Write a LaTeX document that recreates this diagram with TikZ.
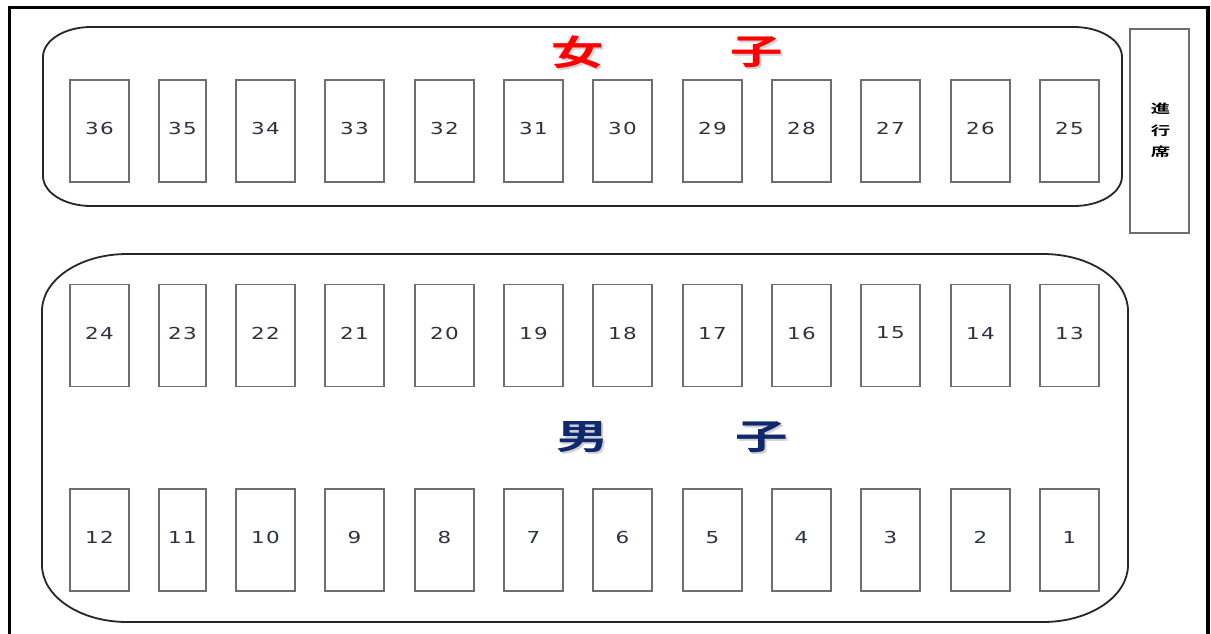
\documentclass[tikz,border=0pt]{standalone}
\usepackage{fontspec}
\setmainfont{DejaVu Sans}
\newfontfamily\cjkb{Noto Sans CJK JP Bold}
\newfontfamily\numfont[LetterSpace=6]{DejaVu Sans}
\definecolor{navy}{RGB}{16,40,110}
\definecolor{numc}{RGB}{45,50,65}
\definecolor{seatc}{RGB}{110,110,110}
\begin{document}
\begin{tikzpicture}[x=1pt,y=-1pt,
  seat/.style={draw=seatc,line width=1.2pt,minimum width=59pt,minimum height=102pt,inner sep=0pt},
  narrow/.style={minimum width=47pt},
  num/.style={font=\numfont\fontsize{16.5}{18}\selectfont,text=numc,xscale=1.3,inner sep=0pt,yshift=2.5pt},
  zone/.style={draw=black!85,line width=1.8pt},
  bigtitle/.style={font=\cjkb\fontsize{35}{35}\selectfont,inner sep=0pt,xscale=1.5},
  shadowt/.style={bigtitle,text=black!18}]
\useasboundingbox (0,0) rectangle (1211,633);
\clip (0,0) rectangle (1211,633);
\fill[white] (0,0) rectangle (1211,633);
% outer frame
\draw[line width=3.5pt] (9.5,660) -- (9.5,7.5) -- (1208,7.5) -- (1208,660);
% zones
\draw[zone] (91,27) -- (1074,27) arc[start angle=-90,end angle=0,x radius=48,y radius=30]
  -- (1122,176) arc[start angle=0,end angle=90,x radius=48,y radius=30]
  -- (91,206) arc[start angle=90,end angle=180,x radius=48,y radius=30]
  -- (43,57) arc[start angle=180,end angle=270,x radius=48,y radius=30] -- cycle;
\draw[zone] (127,254) -- (1043,254) arc[start angle=-90,end angle=0,x radius=85,y radius=57]
  -- (1128,565) arc[start angle=0,end angle=90,x radius=85,y radius=57]
  -- (127,622) arc[start angle=90,end angle=180,x radius=85,y radius=57]
  -- (42,311) arc[start angle=180,end angle=270,x radius=85,y radius=57] -- cycle;
% seats
\foreach \n/\x in {36/99.5,34/265.5,33/354.5,32/444.5,31/533.5,30/622.5,29/712.5,28/801.5,27/890.5,26/980.5,25/1069.5}
  {\node[seat] (s\n) at (\x,131) {}; \node[num] at (s\n) {\n};}
\node[seat,narrow] (s35) at (182.5,131) {}; \node[num] at (s35) {35};
\foreach \n/\x in {24/99.5,22/265.5,21/354.5,20/444.5,19/533.5,18/622.5,17/712.5,16/801.5,15/890.5,14/980.5,13/1069.5}
  {\node[seat] (s\n) at (\x,335.5) {}; \node[num] at (s\n) {\n};}
\node[seat,narrow] (s23) at (182.5,335.5) {}; \node[num] at (s23) {23};
\foreach \n/\x in {12/99.5,10/265.5,9/354.5,8/444.5,7/533.5,6/622.5,5/712.5,4/801.5,3/890.5,2/980.5,1/1069.5}
  {\node[seat] (s\n) at (\x,540) {}; \node[num] at (s\n) {\n};}
\node[seat,narrow] (s11) at (182.5,540) {}; \node[num] at (s11) {11};
% host seat
\node[draw=seatc,line width=1.2pt,minimum width=59pt,minimum height=204pt,inner sep=0pt] (host) at (1159.5,131) {};
\node[font=\cjkb\fontsize{12.5}{21.5}\selectfont,align=center,inner sep=0pt,xscale=1.55] (hostt) at (1160.5,130.5) {進\\行\\席};
% titles
\node[shadowt] at (579.5,54.5) {女};
\node[shadowt] at (758.5,54.5) {子};
\node[bigtitle,text=red] (f1) at (577.5,52.5) {女};
\node[bigtitle,text=red] (f2) at (756.5,52.5) {子};
\node[shadowt] at (585,439) {男};
\node[shadowt] at (763.5,439) {子};
\node[bigtitle,text=navy] (m1) at (583,437) {男};
\node[bigtitle,text=navy] (m2) at (761.5,437) {子};
\end{tikzpicture}
\end{document}
